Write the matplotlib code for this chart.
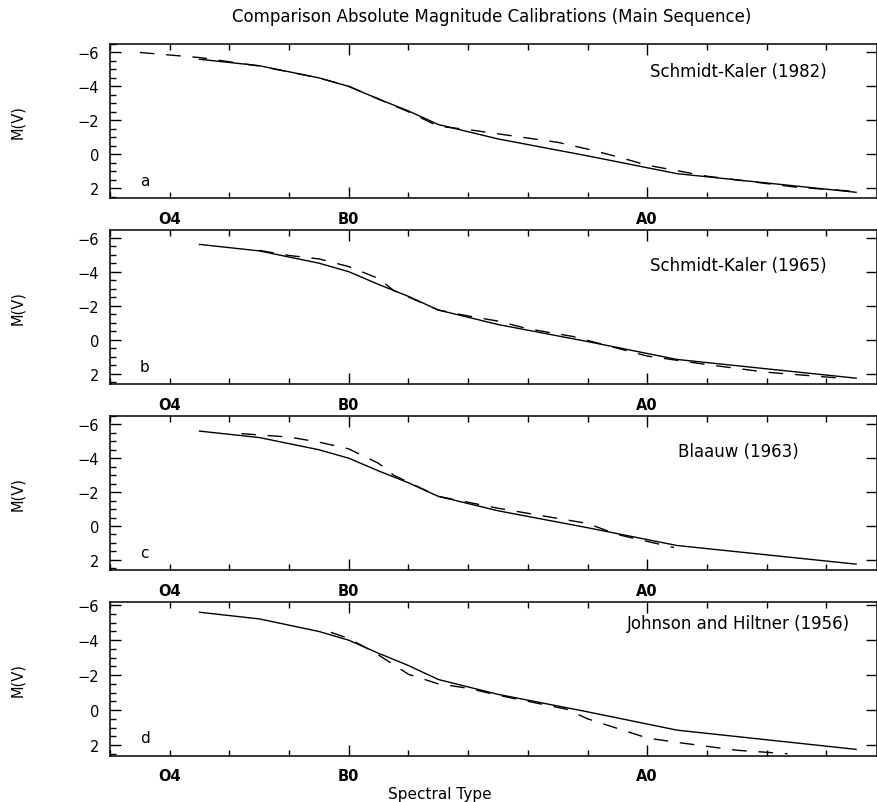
import matplotlib.pyplot as plt
from matplotlib.ticker import MultipleLocator

plt.rcParams['font.family'] = ['DejaVu Sans']
plt.rcParams['lines.scale_dashes'] = False

# spectral subtype index: O4 = -6, B0 = 0, A0 = 10
sp_ticks = [-6, 0, 10]
sp_labels = ['O4', 'B0', 'A0']

# adopted main-sequence calibration (solid, same in every panel)
ref_x = [-5, -3, -1, 0, 1, 2, 3, 5, 8, 10, 11, 14, 17]
ref_mv = [-5.6, -5.22, -4.5, -4.0, -3.25, -2.55, -1.75, -0.9, 0.1, 0.8, 1.15, 1.7, 2.25]

# comparison calibrations (dashed)
sk82_x = [-7, -5, -3, -1, 0, 1, 2, 3, 4, 5, 6, 7, 8, 9, 10, 12, 15, 17]
sk82_mv = [-6.0, -5.7, -5.2, -4.5, -4.0, -3.25, -2.5, -1.65, -1.45, -1.2, -0.95,
           -0.7, -0.3, 0.15, 0.65, 1.3, 1.95, 2.2]

sk65_x = [-3, -2, -1, 0, 1, 1.5, 3, 4, 5, 6, 7.5, 10, 12, 14, 16.5]
sk65_mv = [-5.25, -4.95, -4.75, -4.3, -3.6, -2.9, -1.75, -1.4, -1.1, -0.65, -0.2,
           0.95, 1.45, 1.9, 2.25]

bl63_x = [-3.6, -2, -1, 0, 1, 1.5, 3, 4, 5, 7, 8, 9, 10.9]
bl63_mv = [-5.45, -5.25, -4.95, -4.55, -3.7, -3.0, -1.75, -1.4, -1.05, -0.45,
           -0.15, 0.5, 1.27]

jh56_x = [-0.6, 0, 0.65, 1, 2, 3, 4, 5, 7.3, 8, 9, 10, 11, 13, 14.7]
jh56_mv = [-4.45, -4.1, -3.5, -3.15, -2.05, -1.5, -1.25, -0.85, -0.05, 0.5, 1.05,
           1.6, 1.85, 2.3, 2.5]

panels = [
    ('a', 'Schmidt-Kaler (1982)', sk82_x, sk82_mv, (2.6, -6.5), 0.825),
    ('b', 'Schmidt-Kaler (1965)', sk65_x, sk65_mv, (2.6, -6.45), 0.775),
    ('c', 'Blaauw (1963)', bl63_x, bl63_mv, (2.6, -6.5), 0.77),
    ('d', 'Johnson and Hiltner (1956)', jh56_x, jh56_mv, (2.63, -6.2), 0.86),
]

fig, axes = plt.subplots(4, 1, figsize=(8.78, 8.03), dpi=100)
fig.subplots_adjust(left=110/878, right=877/878, top=1-45/803, bottom=1-757/803,
                    hspace=0.2055)

for ax, (letter, name, dx, dy, ylim, ny) in zip(axes, panels):
    ax.plot(ref_x, ref_mv, color='black', lw=1.0)
    ax.plot(dx, dy, color='black', lw=1.0, linestyle=(0, (10.5, 8.5)))

    ax.set_xlim(-8, 17.7)
    ax.set_ylim(*ylim)

    ax.set_xticks(sp_ticks, sp_labels, fontweight='bold', fontsize=10.5)
    ax.xaxis.set_minor_locator(MultipleLocator(2))
    ax.set_yticks([-6, -4, -2, 0, 2])
    ax.yaxis.set_minor_locator(MultipleLocator(0.5))
    ax.tick_params(which='both', direction='in', top=True, bottom=True,
                   left=True, right=True, width=1.0, colors='black')
    ax.tick_params(which='major', length=8)
    ax.tick_params(which='minor', length=4.5)
    ax.tick_params(axis='y', which='minor', right=False)
    ax.tick_params(axis='x', pad=9)
    ax.tick_params(axis='y', labelsize=10.5, pad=8)
    # O4 is not a major division: give it a short tick
    t0 = ax.xaxis.get_major_ticks()[0]
    t0.tick1line.set_markersize(4.5)
    t0.tick2line.set_markersize(4.5)

    for s in ax.spines.values():
        s.set_linewidth(1.1)

    ax.set_ylabel('M(V)', fontsize=10.5)
    ax.yaxis.set_label_coords(-0.111, 0.5)

    ax.text(0.039, 0.117, letter, transform=ax.transAxes, fontsize=11,
            ha='left', va='center')
    ax.text(0.819, ny, name, transform=ax.transAxes, fontsize=12,
            ha='center', va='center')

fig.text(492/878, 1-17/803,
         'Comparison Absolute Magnitude Calibrations (Main Sequence)',
         ha='center', va='center', fontsize=12)
fig.text(440/878, 1-795/803, 'Spectral Type', ha='center', va='center',
         fontsize=11)

fig.savefig('out.png', dpi=100)
